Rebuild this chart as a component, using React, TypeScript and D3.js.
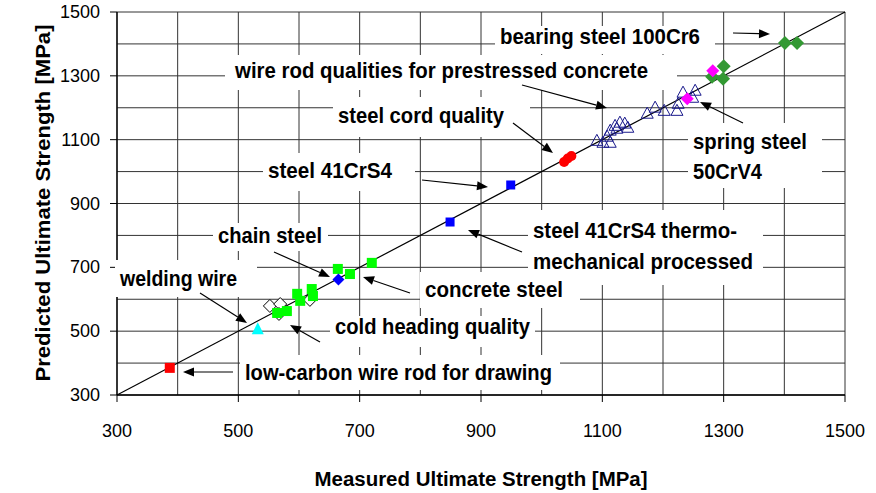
import React from "react";
import * as d3 from "d3";

// ---- data (measured, predicted) in MPa ----
const lowCarbon: [number, number][] = [[387, 385]];
const weldingWire: [number, number][] = [[532, 505]];
const coldHeading: [number, number][] = [[552, 579], [569, 585], [567, 554], [618, 598]];
const concreteSteel: [number, number][] = [
  [564, 557], [580, 563], [597, 617], [602, 595], [621, 632], [623, 610], [664, 695], [684, 679], [720, 714],
];
const chainSteel: [number, number][] = [[665, 662]];
const steel41CrS4: [number, number][] = [[949, 958]];
const steel41CrS4TM: [number, number][] = [[849, 842]];
const steelCord: [number, number][] = [[1037, 1030], [1043, 1041], [1049, 1049]];
const prestressed: [number, number][] = [
  [1091, 1096], [1101, 1090], [1113, 1090], [1108, 1109], [1113, 1128], [1121, 1143], [1129, 1153],
  [1137, 1150], [1142, 1137], [1124, 1134], [1174, 1181], [1187, 1200], [1202, 1190], [1223, 1190],
  [1225, 1212], [1233, 1247], [1253, 1253], [1249, 1231],
];
const springSteel: [number, number][] = [[1240, 1228], [1282, 1316]];
const bearingSteel: [number, number][] = [[1281, 1297], [1300, 1330], [1299, 1291], [1401, 1403], [1421, 1403]];

const tickValues = [300, 500, 700, 900, 1100, 1300, 1500];
const gridValues = [300, 400, 500, 600, 700, 800, 900, 1000, 1100, 1200, 1300, 1400, 1500];
const xTitle = "Measured Ultimate Strength [MPa]";
const yTitle = "Predicted Ultimate Strength [MPa]";

// ---- annotation layout (pixels) ----
type Ann = { lines: string[]; widths: number[]; x: number; ys: number[]; box: [number, number, number, number]; arrow: [number, number, number, number] };
const annotations: Ann[] = [
  { lines: ["bearing steel 100Cr6"], widths: [200], x: 500, ys: [44], box: [495, 26, 220, 28], arrow: [733, 33, 770, 34] },
  { lines: ["wire rod qualities for prestressed concrete"], widths: [413], x: 235, ys: [78], box: [225, 55, 452, 35], arrow: [522, 85, 607, 108] },
  { lines: ["steel cord quality"], widths: [166], x: 338, ys: [123], box: [333, 97, 197, 40], arrow: [513, 123, 553, 153] },
  { lines: ["steel 41CrS4"], widths: [124], x: 268, ys: [178], box: [263, 153, 152, 38], arrow: [422, 180, 488, 187] },
  { lines: ["steel 41CrS4 thermo-", "mechanical processed"], widths: [204, 220], x: 533, ys: [238, 269], box: [528, 210, 235, 75], arrow: [522, 252, 468, 230] },
  { lines: ["chain steel"], widths: [104], x: 218, ys: [243], box: [213, 223, 115, 28], arrow: [274, 252, 330, 277] },
  { lines: ["concrete steel"], widths: [138], x: 425, ys: [297], box: [420, 272, 160, 36], arrow: [410, 293, 363, 277] },
  { lines: ["welding wire"], widths: [117], x: 120, ys: [286], box: [115, 260, 142, 37], arrow: [200, 293, 247, 323] },
  { lines: ["cold heading quality"], widths: [195], x: 335, ys: [334], box: [330, 316, 205, 31], arrow: [320, 342, 290, 325] },
  { lines: ["low-carbon wire rod for drawing"], widths: [307], x: 245, ys: [380], box: [240, 355, 320, 35], arrow: [233, 372, 183, 372] },
  { lines: ["spring steel", "50CrV4"], widths: [114, 69], x: 693, ys: [149, 179], box: [688, 123, 134, 65], arrow: [743, 123, 700, 102] },
];

const W = 876, H = 493;
const x = d3.scaleLinear().domain([300, 1500]).range([117, 845]);
const y = d3.scaleLinear().domain([300, 1500]).range([395, 12]);

const diamond = (r: number) => `M0,${-r}L${r},0L0,${r}L${-r},0Z`;
const triangle = (w: number, h: number) => `M0,${-h * 0.6}L${w / 2},${h * 0.4}L${-w / 2},${h * 0.4}Z`;

function Arrow({ a }: { a: [number, number, number, number] }) {
  const [x1, y1, x2, y2] = a;
  const ang = Math.atan2(y2 - y1, x2 - x1);
  const L = 11, hw = 4.5;
  const bx = x2 - L * Math.cos(ang), by = y2 - L * Math.sin(ang);
  const px = -Math.sin(ang) * hw, py = Math.cos(ang) * hw;
  return (
    <g>
      <line x1={x1} y1={y1} x2={bx} y2={by} stroke="#000" strokeWidth={1.2} />
      <path d={`M${x2},${y2}L${bx + px},${by + py}L${bx - px},${by - py}Z`} fill="#000" />
    </g>
  );
}

export default function App() {
  const font = "'Liberation Sans', Arial, sans-serif";
  const pt = (d: [number, number]) => `translate(${x(d[0])},${y(d[1])})`;
  return (
    <svg width={W} height={H} style={{ position: "absolute", left: 0, top: 0, background: "#fff" }} fontFamily={font}>
      <rect width={W} height={H} fill="#fff" />
      {/* grid */}
      {gridValues.map((v) => (
        <line key={"gx" + v} x1={x(v)} x2={x(v)} y1={y(300)} y2={y(1500)} stroke="#333" strokeWidth={1} />
      ))}
      {gridValues.map((v) => (
        <line key={"gy" + v} x1={x(300)} x2={x(1500)} y1={y(v)} y2={y(v)} stroke="#333" strokeWidth={1} />
      ))}
      {/* axes */}
      <line x1={x(300)} x2={x(300)} y1={y(300)} y2={y(1500)} stroke="#000" strokeWidth={1.3} />
      <line x1={x(300)} x2={x(1500)} y1={y(300)} y2={y(300)} stroke="#000" strokeWidth={1.3} />
      {tickValues.map((v) => (
        <g key={"t" + v}>
          <line x1={x(300) - 7} x2={x(300)} y1={y(v)} y2={y(v)} stroke="#000" />
          <line x1={x(v)} x2={x(v)} y1={y(300)} y2={y(300) + 7} stroke="#000" />
          <text x={100} y={y(v) + 6} textAnchor="end" fontSize={18} fill="#000">{v}</text>
          <text x={x(v)} y={437} textAnchor="middle" fontSize={18} fill="#000">{v}</text>
        </g>
      ))}
      {/* label boxes */}
      {annotations.map((a, i) => (
        <rect key={"b" + i} x={a.box[0]} y={a.box[1]} width={a.box[2]} height={a.box[3]} fill="#fff" />
      ))}
      {/* diagonal */}
      <line x1={x(300)} y1={y(300)} x2={x(1500)} y2={y(1500)} stroke="#000" strokeWidth={1.2} />
      {/* markers */}
      {prestressed.map((d, i) => (
        <path key={"pr" + i} transform={pt(d)} d={triangle(12, 11)} fill="none" stroke="#1a1a8c" strokeWidth={1} />
      ))}
      {coldHeading.map((d, i) => (
        <path key={"ch" + i} transform={pt(d)} d={diamond(6.5)} fill="#fff" stroke="#000" strokeWidth={1} />
      ))}
      {concreteSteel.map((d, i) => (
        <rect key={"cs" + i} x={x(d[0]) - 5} y={y(d[1]) - 5} width={10} height={10} fill="#00ff00" />
      ))}
      {chainSteel.map((d, i) => (
        <path key={"cn" + i} transform={pt(d)} d={diamond(6)} fill="#0000ff" />
      ))}
      {lowCarbon.map((d, i) => (
        <rect key={"lc" + i} x={x(d[0]) - 5} y={y(d[1]) - 5} width={10} height={10} fill="#ff0000" />
      ))}
      {weldingWire.map((d, i) => (
        <path key={"ww" + i} transform={pt(d)} d={triangle(12, 12)} fill="#00ffff" />
      ))}
      {[...steel41CrS4, ...steel41CrS4TM].map((d, i) => (
        <rect key={"cr" + i} x={x(d[0]) - 4.5} y={y(d[1]) - 4.5} width={9} height={9} fill="#0000ff" />
      ))}
      {steelCord.map((d, i) => (
        <circle key={"sc" + i} cx={x(d[0])} cy={y(d[1])} r={5} fill="#ff0000" />
      ))}
      {bearingSteel.map((d, i) => (
        <path key={"bs" + i} transform={pt(d)} d={diamond(7)} fill="#339933" />
      ))}
      {springSteel.map((d, i) => (
        <path key={"ss" + i} transform={pt(d)} d={diamond(6.5)} fill="#ff00ff" />
      ))}
      {/* annotations */}
      {annotations.map((a, i) => (
        <g key={"a" + i}>
          {a.lines.map((l, j) => (
            <text key={j} x={a.x} y={a.ys[j]} fontSize={21.5} fontWeight="bold" fill="#000" textLength={a.widths[j]} lengthAdjust="spacingAndGlyphs">{l}</text>
          ))}
          <Arrow a={a.arrow} />
        </g>
      ))}
      {/* titles */}
      <text x={481} y={486} textAnchor="middle" fontSize={20} fontWeight="bold" textLength={333} lengthAdjust="spacingAndGlyphs">{xTitle}</text>
      <text transform="translate(50,203) rotate(-90)" textAnchor="middle" fontSize={20} fontWeight="bold" textLength={357} lengthAdjust="spacingAndGlyphs">{yTitle}</text>
    </svg>
  );
}
